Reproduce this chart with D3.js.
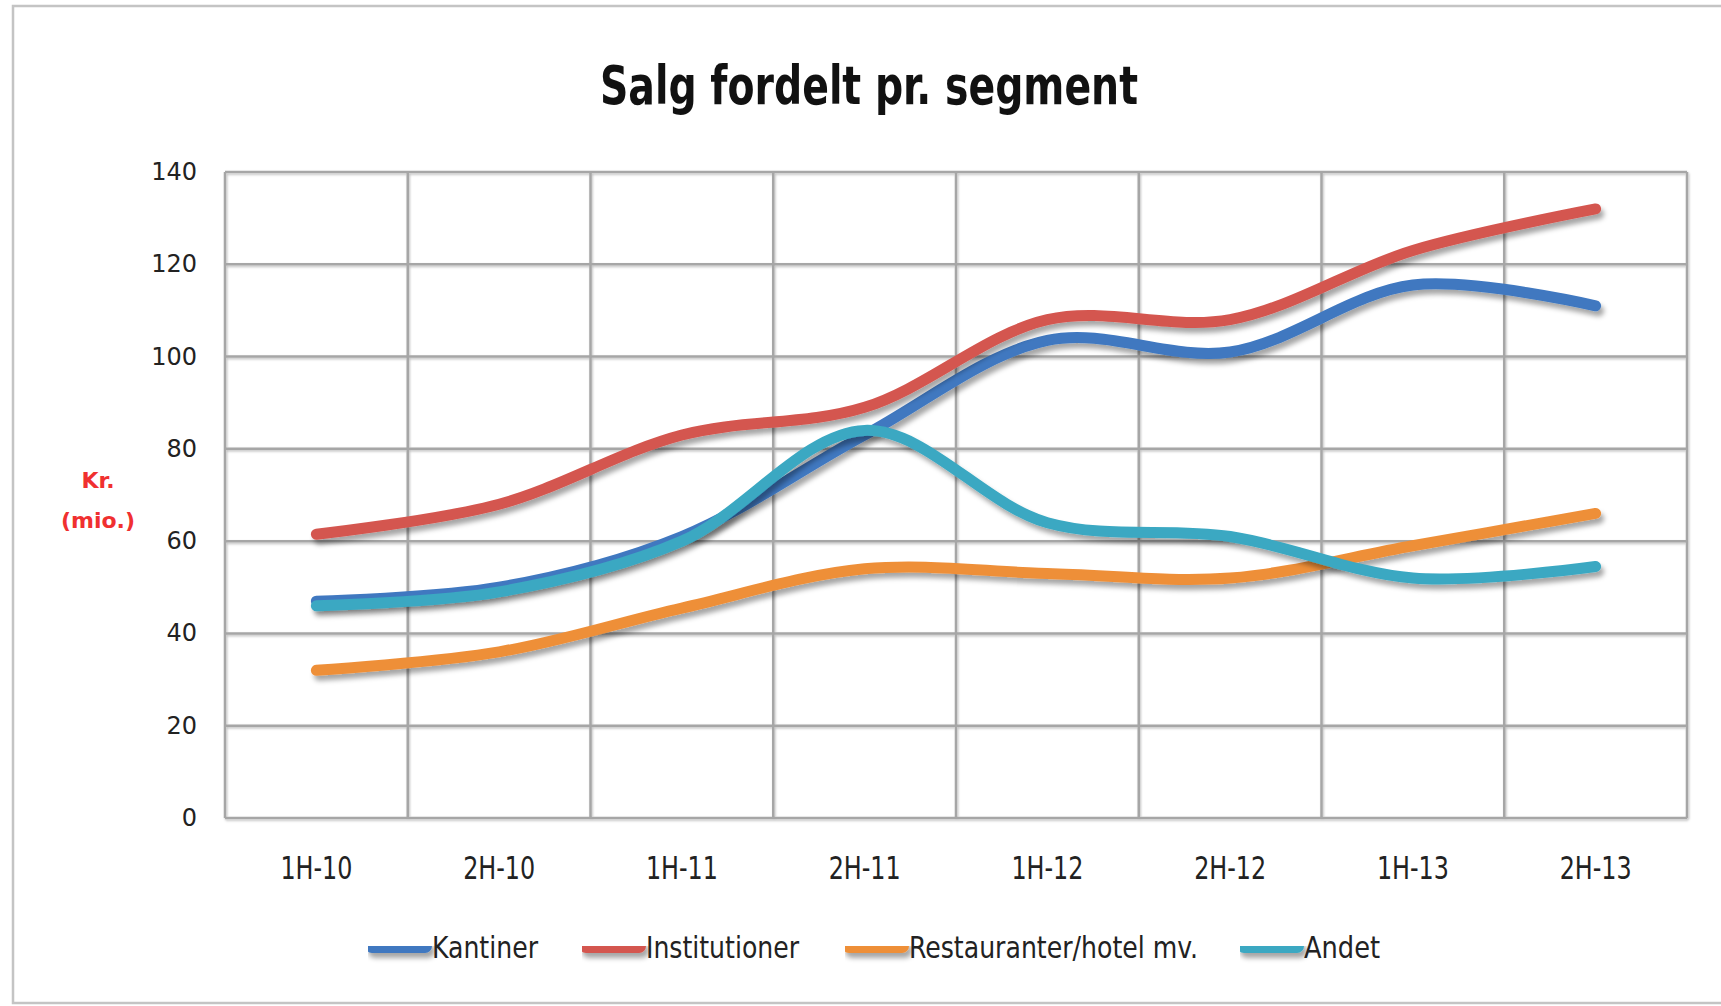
<!DOCTYPE html>
<html>
<head>
<meta charset="utf-8">
<script src="https://cdn.jsdelivr.net/npm/d3@7"></script>
<style>
  html, body { margin: 0; padding: 0; background: #fff; }
  svg { display: block; }
  .narrow { font-family: "Liberation Sans Narrow", "DejaVu Sans Condensed", "Arial Narrow", sans-serif; }
</style>
</head>
<body>
<div id="chart"></div>
<script>
'use strict';

var periods = ['1H-10', '2H-10', '1H-11', '2H-11', '1H-12', '2H-12', '1H-13', '2H-13'];
var kantiner = [47, 50, 61, 83, 103.5, 101, 115.5, 111];
var institutioner = [61.5, 68, 83, 89, 108, 108, 123, 132];
var restauranter = [32, 36, 45.5, 54, 53, 52, 59, 66];
var andet = [46, 49, 60, 84, 64, 61, 52, 54.5];
var seriesNames = ['Kantiner', 'Institutioner', 'Restauranter/hotel mv.', 'Andet'];
var seriesColors = ['#3f78c0', '#d4564f', '#ee8f39', '#3aa8c2'];
var yTicks = [0, 20, 40, 60, 80, 100, 120, 140];

var width = 1721, height = 1006;
var margin = {left: 225, right: 34, top: 172, bottom: 188};

// the original uses a condensed font, so stretch texts to its widths
var legendX = [368, 582, 845, 1240];
var legendTextW = [106, 153, 289, 76];

var svg = d3.select('#chart').append('svg')
    .attr('width', width)
    .attr('height', height);

var defs = svg.append('defs');
var shadow = defs.append('filter')
    .attr('id', 'shadow')
    .attr('filterUnits', 'userSpaceOnUse')
    .attr('x', 0).attr('y', 0)
    .attr('width', width).attr('height', height);
shadow.append('feDropShadow')
    .attr('dx', 3).attr('dy', 5)
    .attr('stdDeviation', 2.5)
    .attr('flood-color', '#000')
    .attr('flood-opacity', 0.35);

var gridShadow = defs.append('filter')
    .attr('id', 'gridShadow')
    .attr('filterUnits', 'userSpaceOnUse')
    .attr('x', 0).attr('y', 0)
    .attr('width', width).attr('height', height);
gridShadow.append('feDropShadow')
    .attr('dx', 1).attr('dy', 1.5)
    .attr('stdDeviation', 1)
    .attr('flood-color', '#000')
    .attr('flood-opacity', 0.25);

// outer chart frame
svg.append('rect')
    .attr('x', 13).attr('y', 6)
    .attr('width', width).attr('height', height - 9)
    .attr('fill', '#fff')
    .attr('stroke', '#c4c4c4')
    .attr('stroke-width', 2.5);

svg.append('text')
    .attr('class', 'narrow')
    .attr('x', 600).attr('y', 104)
    .attr('font-size', 54)
    .attr('font-weight', 'bold')
    .attr('fill', '#111')
    .attr('textLength', 538)
    .attr('lengthAdjust', 'spacingAndGlyphs')
    .text('Salg fordelt pr. segment');

var x = d3.scalePoint()
    .domain(periods)
    .range([margin.left, width - margin.right])
    .padding(0.5);

var y = d3.scaleLinear()
    .domain([0, 140])
    .range([height - margin.bottom, margin.top]);

var step = x.step();
var grid = svg.append('g').attr('filter', 'url(#gridShadow)');

// horizontal grid
grid.selectAll('line.h')
    .data(yTicks)
    .enter().append('line')
    .attr('class', 'h')
    .attr('x1', margin.left).attr('x2', width - margin.right)
    .attr('y1', function (d) { return y(d); })
    .attr('y2', function (d) { return y(d); })
    .attr('stroke', '#a6a6a6')
    .attr('stroke-width', 2.5);

// vertical grid at band edges
var edges = periods.map(function (p) { return x(p) - step / 2; });
edges.push(x(periods[periods.length - 1]) + step / 2);
grid.selectAll('line.v')
    .data(edges)
    .enter().append('line')
    .attr('class', 'v')
    .attr('x1', function (d) { return d; })
    .attr('x2', function (d) { return d; })
    .attr('y1', y(140)).attr('y2', y(0))
    .attr('stroke', '#a6a6a6')
    .attr('stroke-width', 2.5);

// y axis labels
svg.append('g').selectAll('text')
    .data(yTicks)
    .enter().append('text')
    .attr('x', 197)
    .attr('y', function (d) { return y(d) + 8; })
    .attr('text-anchor', 'end')
    .attr('font-family', 'DejaVu Sans, sans-serif')
    .attr('font-size', 24)
    .attr('fill', '#222')
    .text(function (d) { return d; });

// x axis labels
svg.append('g').selectAll('text')
    .data(periods)
    .enter().append('text')
    .attr('class', 'narrow')
    .attr('x', function (d) { return x(d) - 36; })
    .attr('y', 879)
    .attr('font-size', 32)
    .attr('fill', '#222')
    .attr('textLength', 72)
    .attr('lengthAdjust', 'spacingAndGlyphs')
    .text(function (d) { return d; });

// y axis title
var yt = svg.append('text')
    .attr('text-anchor', 'middle')
    .attr('font-family', 'DejaVu Sans, sans-serif')
    .attr('font-size', 22)
    .attr('font-weight', 'bold')
    .attr('fill', '#f03030');
yt.append('tspan').attr('x', 98).attr('y', 488).text('Kr.');
yt.append('tspan').attr('x', 98).attr('y', 528).text('(mio.)');

var allSeries = [kantiner, institutioner, restauranter, andet];

var line = d3.line()
    .x(function (d, i) { return x(periods[i]); })
    .y(function (d) { return y(d); })
    .curve(d3.curveCatmullRom.alpha(0.5));

svg.append('g').selectAll('path')
    .data(allSeries)
    .enter().append('path')
    .attr('d', line)
    .attr('fill', 'none')
    .attr('stroke', function (d, i) { return seriesColors[i]; })
    .attr('stroke-width', 11)
    .attr('stroke-linecap', 'round')
    .attr('stroke-linejoin', 'round')
    .attr('filter', 'url(#shadow)');

// legend
var lg = svg.append('g').selectAll('g')
    .data(seriesNames)
    .enter().append('g')
    .attr('transform', function (d, i) { return 'translate(' + legendX[i] + ',946)'; });

lg.append('rect')
    .attr('x', -3).attr('y', -7)
    .attr('width', 67).attr('height', 14)
    .attr('rx', 7)
    .attr('fill', function (d, i) { return seriesColors[i]; })
    .attr('filter', 'url(#shadow)');

lg.append('text')
    .attr('class', 'narrow')
    .attr('x', 64)
    .attr('y', 12)
    .attr('font-size', 31)
    .attr('fill', '#222')
    .attr('textLength', function (d, i) { return legendTextW[i]; })
    .attr('lengthAdjust', 'spacingAndGlyphs')
    .text(function (d) { return d; });
</script>
</body>
</html>
